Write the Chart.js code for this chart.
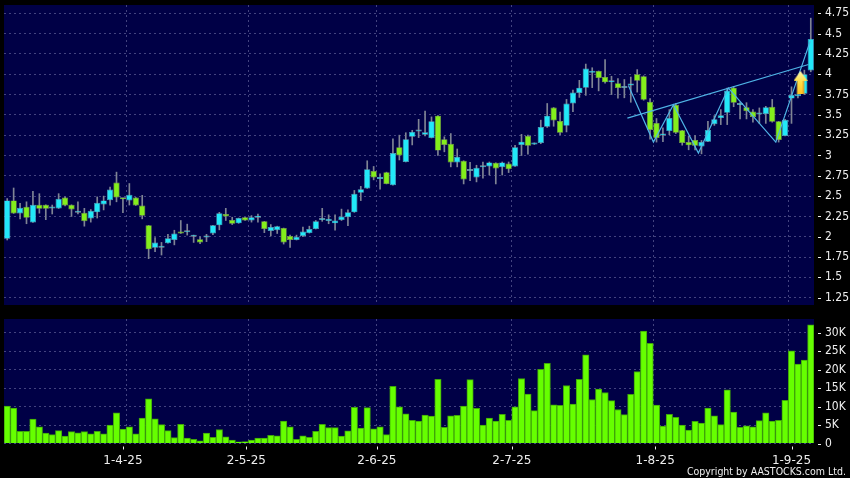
<!DOCTYPE html>
<html>
<head>
<meta charset="utf-8">
<script src="https://cdn.jsdelivr.net/npm/chart.js@4"></script>
<style>
  html, body { margin: 0; padding: 0; background: #000; }
  body { width: 850px; height: 478px; position: relative; overflow: hidden; }
  canvas { position: absolute; left: 0; }
  #priceChart { top: 0; }
  #volumeChart { top: 310px; }
  #copy { position: absolute; right: 4px; top: 464px; color: #eee; font: 10.5px "DejaVu Sans Condensed", "DejaVu Sans", sans-serif; line-height: 14px; }
</style>
</head>
<body>
<canvas id="priceChart" width="850" height="310" style="width:850px;height:310px"></canvas>
<canvas id="volumeChart" width="850" height="168" style="width:850px;height:168px"></canvas>
<div id="copy">Copyright by AASTOCKS.com Ltd.</div>
<script>
const opens = [1.975,2.447,2.287,2.37,2.176,2.393,2.393,2.348,2.348,2.483,2.393,2.295,2.295,2.225,2.3,2.397,2.45,2.668,2.466,2.447,2.483,2.385,2.14,1.865,1.865,1.92,1.96,2.065,2.055,2.0,1.97,1.99,
  2.04,2.14,2.28,2.205,2.165,2.24,2.2,2.235,2.19,2.07,2.08,2.107,2.01,1.96,2.01,2.045,2.095,2.205,2.195,2.165,2.205,2.24,2.3,2.54,2.595,2.81,2.71,2.795,2.635,3.1,
  2.92,3.23,3.295,3.255,3.215,3.49,3.2,3.145,2.915,2.935,2.81,2.73,2.855,2.865,2.91,2.855,2.9,2.865,3.13,3.24,3.135,3.155,3.355,3.59,3.425,3.365,3.64,3.77,3.835,4.017,4.04,
  3.967,3.9,3.89,3.83,3.86,4.0,3.975,3.66,3.4,3.245,3.3,3.625,3.31,3.165,3.19,3.11,3.17,3.385,3.46,3.525,3.835,3.62,3.595,3.54,3.505,3.51,3.6,3.42,3.24,3.7,3.73,3.76,4.045];
const highs = [2.47,2.6,2.41,2.43,2.56,2.53,2.393,2.39,2.53,2.49,2.393,2.43,2.35,2.335,2.49,2.5,2.61,2.795,2.47,2.655,2.483,2.51,2.14,1.99,1.93,2.03,2.08,2.2,2.155,2.02,2.0,2.03,
  2.14,2.3,2.35,2.24,2.23,2.24,2.26,2.28,2.19,2.15,2.13,2.107,2.02,2.02,2.12,2.13,2.2,2.35,2.27,2.27,2.34,2.33,2.57,2.62,2.935,2.865,2.775,2.795,3.205,3.25,
  3.28,3.31,3.445,3.545,3.475,3.49,3.23,3.27,3.08,2.935,2.915,2.88,2.92,2.92,2.91,2.92,2.92,3.125,3.26,3.25,3.155,3.435,3.64,3.59,3.535,3.69,3.805,3.925,4.125,4.08,4.04,
  4.18,3.975,3.945,3.935,3.965,4.057,3.98,3.7,3.455,3.34,3.565,3.64,3.31,3.24,3.245,3.185,3.42,3.49,3.565,3.83,3.85,3.65,3.65,3.565,3.585,3.605,3.69,3.42,3.445,3.845,3.755,4.05,4.69];
const lows = [1.96,2.287,2.22,2.16,2.176,2.29,2.21,2.28,2.348,2.38,2.25,2.28,2.13,2.18,2.23,2.33,2.39,2.43,2.295,2.39,2.385,2.22,1.73,1.815,1.775,1.92,1.9,2.04,2.02,1.93,1.915,1.94,
  2.025,2.085,2.2,2.15,2.165,2.2,2.18,2.18,2.05,2.01,2.04,1.91,1.87,1.96,2.0,2.045,2.095,2.19,2.16,2.08,2.2,2.135,2.3,2.445,2.595,2.7,2.585,2.65,2.635,2.945,
  2.92,3.13,3.22,3.24,3.215,3.0,3.045,2.86,2.86,2.65,2.69,2.675,2.72,2.76,2.65,2.76,2.79,2.865,3.0,3.015,3.135,3.145,3.345,3.36,3.255,3.29,3.54,3.715,3.74,3.835,3.795,
  3.89,3.75,3.705,3.71,3.655,3.78,3.68,3.2,3.165,3.17,3.255,3.27,3.127,3.07,3.07,3.02,3.17,3.37,3.38,3.38,3.6,3.45,3.45,3.41,3.395,3.395,3.41,3.165,3.24,3.395,3.71,3.75,4.03];
const closes = [2.447,2.287,2.356,2.233,2.393,2.344,2.344,2.348,2.467,2.385,2.336,2.295,2.19,2.32,2.418,2.447,2.58,2.483,2.46,2.516,2.385,2.258,1.845,1.93,1.865,1.98,2.04,2.04,2.055,2.0,1.93,1.99,
  2.14,2.29,2.25,2.16,2.23,2.2,2.24,2.235,2.095,2.12,2.13,1.93,1.96,2.0,2.065,2.095,2.19,2.205,2.22,2.2,2.25,2.3,2.53,2.585,2.83,2.73,2.735,2.65,3.03,3.0,
  3.2,3.29,3.295,3.285,3.42,3.06,3.13,2.915,2.985,2.705,2.81,2.85,2.855,2.915,2.84,2.915,2.83,3.1,3.17,3.12,3.155,3.35,3.49,3.43,3.28,3.64,3.775,3.835,4.07,4.04,3.955,
  3.9,3.9,3.83,3.83,3.86,3.92,3.685,3.315,3.215,3.245,3.46,3.28,3.155,3.125,3.12,3.165,3.315,3.445,3.495,3.8,3.65,3.62,3.545,3.475,3.505,3.595,3.415,3.19,3.44,3.745,3.75,4.0,4.435];
const volumes = [10.1,9.6,3.3,3.3,6.6,4.5,2.8,2.4,3.5,2.0,3.2,2.9,3.2,2.6,3.3,2.6,5.0,8.3,3.9,4.5,2.6,6.9,12.1,6.7,5.1,3.5,1.6,5.2,1.5,1.1,0.7,2.8,1.7,3.8,1.8,0.9,0.45,0.5,0.9,1.45,1.45,2.2,2.1,
  6.05,4.5,1.1,2.1,1.7,3.3,5.2,4.3,4.3,2.0,3.4,9.8,4.2,9.7,4.0,4.5,2.4,15.5,9.9,8.0,6.3,6.1,7.7,7.4,17.4,4.4,7.5,7.6,10.1,17.3,9.5,5.0,6.9,6.05,7.9,6.3,9.9,17.6,13.4,8.9,20.1,21.7,10.5,10.3,
  15.7,10.7,17.4,24.0,11.9,14.7,13.8,11.6,9.2,7.8,13.3,19.5,30.4,27.1,10.4,4.7,7.9,7.1,5.0,3.6,6.0,5.5,9.6,7.5,5.1,14.5,8.5,4.4,4.8,4.5,6.2,8.3,6.05,6.3,11.7,25.1,21.5,22.6,32.1];
const monthBars = [19, 38, 58, 79, 101, 122];
const dateLabels = ['1-4-25', '2-5-25', '2-6-25', '2-7-25', '1-8-25', '1-9-25'];
const datePositions = [18, 37.2, 57.5, 78.5, 100.8, 122];
const trendX = [96.47, 124.64];
const trendY = [3.46, 4.12];
const zigzagX = [96.63, 100.52, 103.63, 107.52, 112.19, 119.56, 124.9];
const zigzagY = [3.86, 3.165, 3.625, 3.03, 3.83, 3.165, 4.405];
const arrowX = [123.4];
const arrowY = [3.9];

const categories = closes.map((c, i) => i);
const navy = '#000046';
const gridColor = '#43437f';
const textColor = '#eeeeee';
const valueFont = { family: '"DejaVu Sans Condensed", "DejaVu Sans"', size: 12 };
const dateFont = { family: '"DejaVu Sans"', size: 12 };

function zip(xs, ys) {
  return xs.map((x, i) => ({ x: x, y: ys[i] }));
}

// flat candles read as a grey dash, the rest get an edge close to their fill
function candleEdge(o, c) {
  if (Math.abs(c - o) < 0.012) return '#8b8f9c';
  return c >= o ? '#5aa9bd' : '#7fa84a';
}

// navy panel behind the plot and the little detached tick marks
const panelPlugin = {
  id: 'panel',
  beforeDraw(chart) {
    const a = chart.chartArea;
    chart.ctx.fillStyle = navy;
    chart.ctx.fillRect(a.left, a.top, a.width, a.height);
  },
  afterDraw(chart) {
    const ctx = chart.ctx;
    const a = chart.chartArea;
    ctx.strokeStyle = textColor;
    ctx.lineWidth = 1;
    ctx.beginPath();
    chart.scales.y.ticks.forEach(t => {
      const y = Math.round(chart.scales.y.getPixelForValue(t.value)) + 0.5;
      ctx.moveTo(a.right + 4, y);
      ctx.lineTo(a.right + 7, y);
    });
    if (chart.scales.xl.options.display) {
      chart.scales.xl.ticks.forEach(t => {
        const x = Math.round(chart.scales.xl.getPixelForValue(t.value)) + 0.5;
        ctx.moveTo(x, a.bottom + 3);
        ctx.lineTo(x, a.bottom + 6);
      });
    }
    ctx.stroke();
  }
};

function baseScales(yOpts, showDates) {
  return {
    x: {
      type: 'category',
      offset: true,
      ticks: { display: false, autoSkip: false },
      border: { display: false, dash: [2, 3] },
      grid: {
        offset: true,
        drawTicks: false,
        color: c => monthBars.includes(c.index) ? gridColor : 'rgba(0,0,0,0)'
      },
      afterFit: s => { s.height = 0; }
    },
    xl: {
      type: 'linear',
      display: showDates,
      position: 'bottom',
      offset: false,
      min: -0.5,
      max: 125.5,
      grid: { display: false, drawTicks: false, offset: false },
      border: { display: false },
      afterBuildTicks: s => { s.ticks = datePositions.map(v => ({ value: v })); },
      afterFit: s => { s.height = showDates ? 34.5 : 0; s.paddingLeft = 0; s.paddingRight = 0; },
      ticks: {
        color: textColor,
        font: dateFont,
        padding: 10,
        maxRotation: 0,
        autoSkip: false,
        callback: (v, i) => dateLabels[i]
      }
    },
    y: Object.assign({
      position: 'right',
      border: { display: false, dash: [2, 3] },
      grid: { color: gridColor, drawTicks: false },
      afterFit: s => { s.width = 36; s.paddingTop = 0; s.paddingBottom = 0; }
    }, yOpts)
  };
}

const arrowIcon = document.createElement('canvas');
arrowIcon.width = 14;
arrowIcon.height = 23;
{
  const g = arrowIcon.getContext('2d');
  const grad = g.createLinearGradient(0, 0, 0, 23);
  grad.addColorStop(0, '#fff6b4');
  grad.addColorStop(0.45, '#ffe04a');
  grad.addColorStop(1, '#ffc422');
  g.fillStyle = grad;
  g.beginPath();
  g.moveTo(7, 0); g.lineTo(14, 10); g.lineTo(10.5, 10); g.lineTo(10.5, 23);
  g.lineTo(3.5, 23); g.lineTo(3.5, 10); g.lineTo(0, 10);
  g.closePath();
  g.fill();
  g.fillStyle = '#e8860c';
  g.fillRect(9.5, 10, 1, 13);
}

new Chart(document.getElementById('priceChart'), {
  type: 'bar',
  data: {
    labels: categories,
    datasets: [
      {
        type: 'line', xAxisID: 'xl', order: 0,
        data: zip(arrowX, arrowY),
        showLine: false, pointStyle: arrowIcon, pointRadius: 10
      },
      {
        type: 'line', xAxisID: 'xl', order: 1,
        data: zip(trendX, trendY),
        borderColor: '#4fb4e6', borderWidth: 1.2, pointRadius: 0
      },
      {
        type: 'line', xAxisID: 'xl', order: 1,
        data: zip(zigzagX, zigzagY),
        borderColor: '#4fb4e6', borderWidth: 1.2, pointRadius: 0
      },
      {
        order: 2, grouped: false,
        data: opens.map((o, i) => [Math.min(o, closes[i]), Math.max(o, closes[i])]),
        backgroundColor: opens.map((o, i) => closes[i] >= o ? '#22e8f8' : '#84ee1c'),
        borderColor: opens.map((o, i) => candleEdge(o, closes[i])),
        borderWidth: 0.7, borderSkipped: false,
        minBarLength: 2, barPercentage: 0.97, categoryPercentage: 1
      },
      {
        order: 3, grouped: false,
        data: lows.map((l, i) => [l, highs[i]]),
        backgroundColor: '#7f8494', barThickness: 1
      }
    ]
  },
  options: {
    responsive: false, animation: false,
    layout: { autoPadding: false, padding: { left: 4, top: 5, bottom: 5, right: 0 } },
    plugins: { legend: { display: false }, tooltip: { enabled: false } },
    scales: baseScales({
      min: 1.16, max: 4.852,
      ticks: {
        stepSize: 0.25, includeBounds: false, color: textColor, font: valueFont, padding: 11,
        callback: v => String(v)
      }
    }, false)
  },
  plugins: [panelPlugin]
});

new Chart(document.getElementById('volumeChart'), {
  type: 'bar',
  data: {
    labels: categories,
    datasets: [{
      data: volumes,
      backgroundColor: '#66ff00',
      borderColor: '#3fa40a',
      borderWidth: 1,
      barPercentage: 1,
      categoryPercentage: 1
    }]
  },
  options: {
    responsive: false, animation: false,
    layout: { autoPadding: false, padding: { left: 4, top: 9, bottom: 0, right: 0 } },
    plugins: { legend: { display: false }, tooltip: { enabled: false } },
    scales: baseScales({
      min: 0, max: 33.7,
      ticks: {
        stepSize: 5, includeBounds: false, color: textColor, font: valueFont, padding: 11,
        callback: v => v === 0 ? '0' : v + 'K'
      }
    }, true)
  },
  plugins: [panelPlugin]
});
</script>
</body>
</html>
